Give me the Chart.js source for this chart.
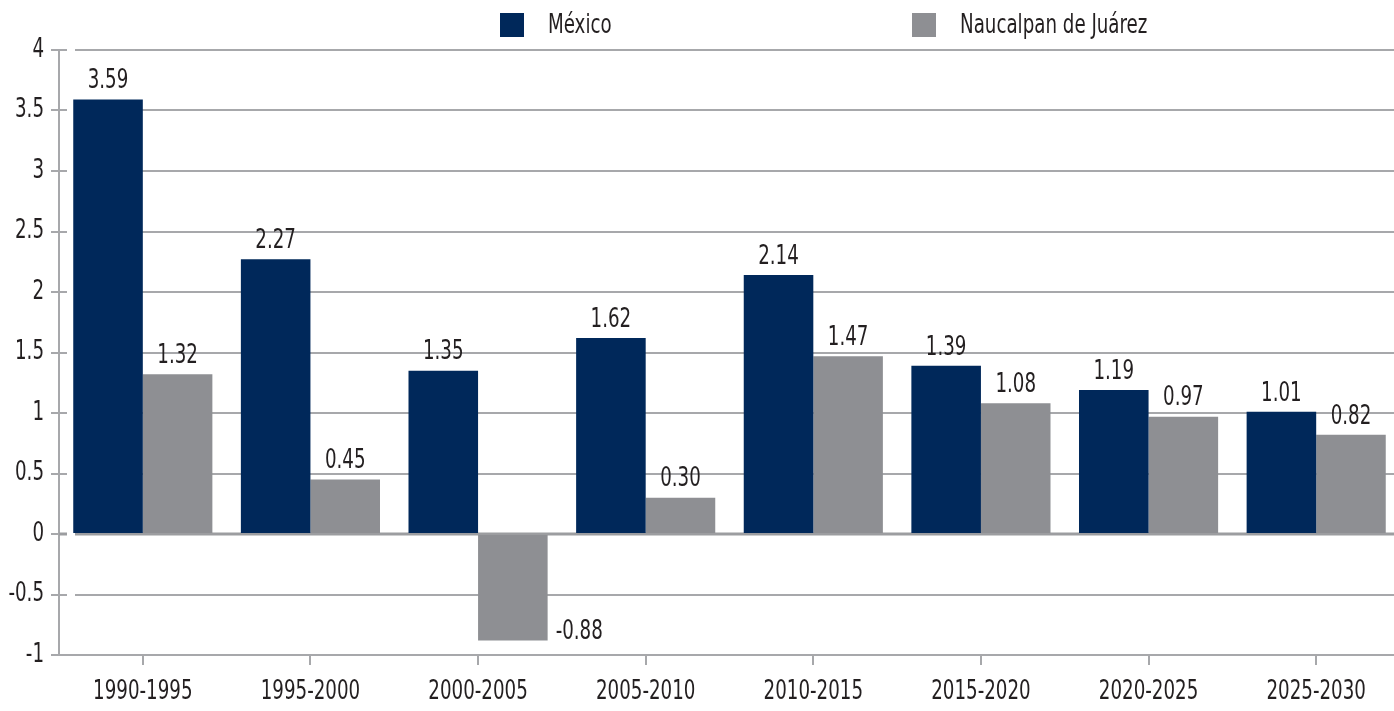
<!DOCTYPE html>
<html>
<head>
<meta charset="utf-8">
<script src="https://cdn.jsdelivr.net/npm/chart.js@4"></script>
<style>
  html, body { margin: 0; padding: 0; background: #fff; overflow: hidden; }
  #wrap { width: 1400px; height: 711px; position: relative; }
</style>
</head>
<body>
<div id="wrap"><canvas id="myChart"></canvas></div>
<script>
const periods = ['1990-1995', '1995-2000', '2000-2005', '2005-2010', '2010-2015', '2015-2020', '2020-2025', '2025-2030'];
const mexico = [3.59, 2.27, 1.35, 1.62, 2.14, 1.39, 1.19, 1.01];
const naucalpan = [1.32, 0.45, -0.88, 0.30, 1.47, 1.08, 0.97, 0.82];
const seriesNames = ['México', 'Naucalpan de Juárez'];

const navy = '#00285a';
const gray = '#8e8f93';
const ink = '#231f20';
const lineGray = '#a7a8ab';
const FONT = '"DejaVu Sans Condensed", "Liberation Sans", sans-serif';
const SQUEEZE = 0.78; // the original uses a narrow face, squeeze the condensed one a bit more

function narrowText(c, txt, x, y, align, baseline) {
    c.save();
    c.translate(x, y);
    c.scale(SQUEEZE, 1);
    c.textAlign = align;
    c.textBaseline = baseline;
    c.fillText(txt, 0, 0);
    c.restore();
}

// gridlines start a little right of the axis, like the original
const gridLines = {
    id: 'gridLines',
    beforeDatasetsDraw(chart) {
        const c = chart.ctx;
        const y = chart.scales.y;
        const area = chart.chartArea;
        c.save();
        y.ticks.forEach(t => {
            const py = Math.round(y.getPixelForValue(t.value));
            const zero = t.value === 0;
            c.strokeStyle = zero ? '#9c9da0' : lineGray;
            c.lineWidth = zero ? 3 : 2;
            c.beginPath();
            c.moveTo(area.left, py);
            c.lineTo(area.left + 8, py);
            c.moveTo(area.left + 16, py);
            c.lineTo(area.right, py);
            c.stroke();
        });
        c.restore();
    }
};

// all texts drawn in a narrow style: ticks, value labels, legend
const texts = {
    id: 'texts',
    afterDraw(chart) {
        const c = chart.ctx;
        const xs = chart.scales.x;
        const ys = chart.scales.y;
        c.save();
        c.font = '26px ' + FONT;
        c.fillStyle = ink;

        ys.ticks.forEach(t => {
            narrowText(c, String(t.value), xs.left - 15, ys.getPixelForValue(t.value), 'right', 'middle');
        });
        xs.ticks.forEach((t, i) => {
            narrowText(c, periods[i], xs.getPixelForTick(i), ys.bottom + 37, 'center', 'middle');
        });

        chart.data.datasets.forEach((ds, i) => {
            chart.getDatasetMeta(i).data.forEach((bar, j) => {
                const v = ds.data[j];
                const txt = v.toFixed(2);
                if (v >= 0) {
                    narrowText(c, txt, bar.x, bar.y - 5, 'center', 'bottom');
                } else {
                    narrowText(c, txt, bar.x + bar.width / 2 + 8, bar.y - 8, 'left', 'middle');
                }
            });
        });

        const items = [
            { x: 500, color: navy, text: seriesNames[0] },
            { x: 912, color: gray, text: seriesNames[1] }
        ];
        items.forEach(it => {
            c.fillStyle = it.color;
            c.fillRect(it.x, 13, 24, 24);
            c.fillStyle = ink;
            narrowText(c, it.text, it.x + 48, 26, 'left', 'middle');
        });
        c.restore();
    }
};

const ctx = document.getElementById('myChart').getContext('2d');
const chart = new Chart(ctx, {
    type: 'bar',
    data: {
        labels: periods,
        datasets: [{
            label: seriesNames[0],
            data: mexico,
            backgroundColor: navy,
            categoryPercentage: 0.83,
            barPercentage: 1.0
        }, {
            label: seriesNames[1],
            data: naucalpan,
            backgroundColor: gray,
            categoryPercentage: 0.83,
            barPercentage: 1.0
        }]
    },
    options: {
        responsive: true,
        maintainAspectRatio: false,
        animation: false,
        layout: { padding: { top: 50, right: 0, left: 0, bottom: 0 } },
        plugins: {
            legend: { display: false },
            tooltip: { enabled: false }
        },
        scales: {
            x: {
                grid: {
                    offset: false,
                    drawOnChartArea: false,
                    color: lineGray,
                    lineWidth: 2,
                    tickLength: 10
                },
                border: { color: lineGray, width: 2 },
                ticks: { display: false },
                afterFit(scale) { scale.height = 56; }
            },
            y: {
                min: -1,
                max: 4,
                ticks: { stepSize: 0.5, display: false },
                grid: {
                    drawOnChartArea: false,
                    color: lineGray,
                    lineWidth: 2,
                    tickLength: 8
                },
                border: { color: lineGray, width: 2 },
                afterFit(scale) { scale.width = 59; }
            }
        }
    },
    plugins: [gridLines, texts]
});
</script>
</body>
</html>
